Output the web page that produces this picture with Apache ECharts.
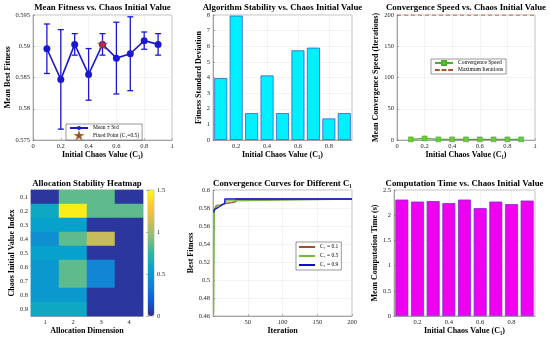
<!DOCTYPE html>
<html><head><meta charset="utf-8">
<script src="https://cdn.jsdelivr.net/npm/echarts@6/dist/echarts.min.js"></script>
<style>html,body{margin:0;padding:0;background:#fff}#c{width:550px;height:338px}</style>
</head><body><div id="c"></div>
<script>
// ---------- data ----------
const c1Values = [0.1, 0.2, 0.3, 0.4, 0.5, 0.6, 0.7, 0.8, 0.9];
const meanFitness = [0.5896, 0.5847, 0.5903, 0.5855, 0.5903, 0.5881, 0.5888, 0.5909, 0.5903];
const stdFitnessE3 = [3.96, 7.96, 1.72, 4.13, 1.72, 5.74, 5.91, 1.38, 1.72]; // x1e-3
const fixedPointC1 = 0.5;
const fixedPointFitness = 0.5903;
const convSpeed = [1, 2.5, 1, 1, 1, 1, 1, 1, 1];
const maxIterations = 200;
const compTime = [2.31, 2.27, 2.28, 2.24, 2.31, 2.14, 2.27, 2.22, 2.29];
const barTicks = [0.2, 0.4, 0.6, 0.8];
const heatRows = ['0.1','0.2','0.3','0.4','0.5','0.6','0.7','0.8','0.9'];
const heatCols = ['1','2','3','4'];
const heatValues = [
  [0.05, 0.85, 0.85, 0.05],
  [0.60, 1.45, 0.85, 0.85],
  [0.55, 0.55, 0.05, 0.05],
  [0.45, 0.85, 1.10, 0.05],
  [0.55, 0.55, 0.05, 0.05],
  [0.50, 0.85, 0.40, 0.05],
  [0.50, 0.85, 0.40, 0.05],
  [0.50, 0.50, 0.05, 0.05],
  [0.60, 0.60, 0.05, 0.05]
];
// convergence curves: [iteration, best fitness] at change points
const curveC01 = [[1,0.577],[3,0.580],[5,0.583],[10,0.585],[18,0.586],[27,0.587],[33,0.590],[200,0.590]];
const curveC05 = [[1,0.462],[2,0.576],[3,0.580],[6,0.583],[10,0.585],[18,0.588],[25,0.590],[200,0.590]];
const curveC09 = [[1,0.575],[2,0.578],[4,0.580],[6,0.582],[10,0.584],[14,0.585],[17,0.590],[200,0.590]];

// ---------- styling ----------
const font = '"Liberation Serif","Times New Roman",serif';
const tickLabel = {fontSize: 6.5, color:'#262626', fontFamily: font, margin: 3};
const nameStyle = {fontSize: 8, fontWeight:'bold', color:'#000', fontFamily: font};
function axis(type, grid, o) {
  return Object.assign({
    type: type, gridIndex: grid,
    nameLocation:'middle', nameTextStyle: nameStyle,
    axisLine:{show:true, onZero:false, lineStyle:{color:'#777', width:0.6}},
    axisTick:{show:true, inside:true, length:2, lineStyle:{color:'#777', width:0.5}},
    axisLabel: tickLabel,
    splitLine:{show:true, lineStyle:{color:'#e6e6e6', width:0.5}}
  }, o);
}
const grids = [
  {left:33, top:15, width:139, height:125},
  {left:213, top:15, width:139, height:125},
  {left:397, top:15, width:138, height:125},
  {left:31, top:190, width:112, height:126},
  {left:213, top:190, width:139, height:126},
  {left:394, top:190, width:141, height:126},
  {left:148, top:190, width:6, height:126}
].map(g => Object.assign({show:true, borderColor:'#999', borderWidth:0.6, backgroundColor:'#fff'}, g));

const titleDefs = [
  ['Mean Fitness vs. Chaos Initial Value', 102.5, 3],
  ['Algorithm Stability vs. Chaos Initial Value', 282.5, 3],
  ['Convergence Speed vs. Chaos Initial Value', 466, 3],
  ['Allocation Stability Heatmap', 87, 179],
  ['Convergence Curves for Different C\u2081', 282.5, 179],
  ['Computation Time vs. Chaos Initial Value', 464.5, 179]
];
const titles = titleDefs.map(t => ({text:t[0], left:t[1], top:t[2], textAlign:'center', padding:0,
  textStyle:{fontSize:8.8, fontWeight:'bold', color:'#000', fontFamily:font}}));

const xName = 'Initial Chaos Value (C\u2081)';
function barXAxis(grid) {
  return axis('value', grid, {min:0.05, max:0.95, name:xName, nameGap:10,
    axisLabel:Object.assign({}, tickLabel, {customValues:barTicks}),
    axisTick:{show:true, inside:true, length:2, customValues:barTicks, lineStyle:{color:'#777', width:0.5}}});
}
const xAxes = [
  axis('value', 0, {min:0, max:1, interval:0.2, name:xName, nameGap:10}),
  barXAxis(1),
  axis('value', 2, {min:0, max:1, interval:0.2, name:xName, nameGap:10}),
  axis('category', 3, {data:heatCols, name:'Allocation Dimension', nameGap:10,
    splitLine:{show:false}, axisTick:{show:false}}),
  axis('value', 4, {min:0, max:200, interval:50, name:'Iteration', nameGap:10,
    axisLabel:Object.assign({}, tickLabel, {showMinLabel:false})}),
  barXAxis(5),
  {type:'value', gridIndex:6, show:false, min:0, max:1}
];
const yAxes = [
  axis('value', 0, {min:0.575, max:0.595, interval:0.005, name:'Mean Best Fitness', nameGap:20}),
  axis('value', 1, {min:0, max:8, interval:1, name:'Fitness Standard Deviation', nameGap:7}),
  axis('value', 2, {min:0, max:200, interval:50, name:'Mean Convergence Speed (Iterations)', nameGap:15}),
  axis('category', 3, {data:heatRows, inverse:true, name:'Chaos Initial Value Index', nameGap:13,
    splitLine:{show:false}, axisTick:{show:false}}),
  axis('value', 4, {min:0.46, max:0.6, interval:0.02, name:'Best Fitness', nameGap:16}),
  axis('value', 5, {min:0, max:2.5, interval:0.5, name:'Mean Computation Time (s)', nameGap:10}),
  axis('value', 6, {min:0, max:1.5, interval:0.5, position:'right', splitLine:{show:false},
    axisLine:{show:true, lineStyle:{color:'#777', width:0.6}}})
];

const blue = '#1a1acc';
const heatData = [];
heatValues.forEach((row, r) => row.forEach((v, c) => heatData.push([c, r, v])));
const dashIcon = 'path://M0,0h5v2h-5z M7,0h5v2h-5z M14,0h5v2h-5z';
const legendBase = {orient:'vertical', itemWidth:18, itemHeight:5, itemGap:1, padding:[1,3],
  backgroundColor:'#fff', borderColor:'#333', borderWidth:0.5,
  textStyle:{fontSize:5.5, fontFamily:font, color:'#000'}};

const option = {
  animation:false,
  backgroundColor:'#fff',
  title: titles,
  grid: grids,
  xAxis: xAxes,
  yAxis: yAxes,
  legend: [
    Object.assign({}, legendBase, {data:['Mean \u00b1 Std','Fixed Point (C\u2081=0.5)'], left:66, top:124}),
    Object.assign({}, legendBase, {data:['Convergence Speed', {name:'Maximum Iterations', icon:dashIcon, itemStyle:{color:'#a0522d'}}],
      left:431, top:59}),
    Object.assign({}, legendBase, {data:[{name:'C\u2081 = 0.1', icon:'rect'},{name:'C\u2081 = 0.5', icon:'rect'},{name:'C\u2081 = 0.9', icon:'rect'}],
      left:296, top:242, itemWidth:16, itemHeight:2, itemGap:3, padding:[2,3]})
  ],
  visualMap: {
    type:'continuous', min:0, max:1.5, seriesIndex:3, show:true, calculable:false,
    left:148, top:190, itemWidth:6, itemHeight:126, padding:0, text:null, showLabel:false,
    inRange:{color:['#352a87','#0f5cdd','#1481d6','#06a4ca','#2eb7a4','#87bf77','#d1bb59','#fec832','#f9fb0e']},
    textStyle:{fontSize:0}
  },
  series: [
    {type:'custom', name:'errbar', xAxisIndex:0, yAxisIndex:0, z:2,
     data: c1Values.map((x,i)=>[x, meanFitness[i]-stdFitnessE3[i]/1000, meanFitness[i]+stdFitnessE3[i]/1000]),
     renderItem(params, api){
       const x = api.value(0);
       const lo = api.coord([x, api.value(1)]);
       const hi = api.coord([x, api.value(2)]);
       const w = 3;
       const st = {stroke:blue, lineWidth:1.3};
       return {type:'group', children:[
         {type:'line', shape:{x1:lo[0],y1:lo[1],x2:hi[0],y2:hi[1]}, style:st},
         {type:'line', shape:{x1:lo[0]-w,y1:lo[1],x2:lo[0]+w,y2:lo[1]}, style:st},
         {type:'line', shape:{x1:hi[0]-w,y1:hi[1],x2:hi[0]+w,y2:hi[1]}, style:st}
       ]};
     }},
    {type:'line', name:'Mean \u00b1 Std', xAxisIndex:0, yAxisIndex:0, z:3,
     data:c1Values.map((x,i)=>[x, meanFitness[i]]), symbol:'circle', symbolSize:7,
     lineStyle:{color:blue, width:1.6}, itemStyle:{color:blue}},
    {type:'scatter', name:'Fixed Point (C\u2081=0.5)', xAxisIndex:0, yAxisIndex:0, z:4,
     data:[[fixedPointC1, fixedPointFitness]], symbol:'path://M0,-10 L2.35,-3.24 9.51,-3.09 3.8,1.24 5.88,8.09 0,4 -5.88,8.09 -3.8,1.24 -9.51,-3.09 -2.35,-3.24Z',
     symbolSize:10, itemStyle:{color:'#e0302a', borderColor:'#8b4513', borderWidth:0.5}},
    {type:'heatmap', name:'heat', xAxisIndex:3, yAxisIndex:3, data:heatData},
    {type:'bar', name:'std', xAxisIndex:1, yAxisIndex:1, barWidth:13,
     data:c1Values.map((x,i)=>[x, stdFitnessE3[i]]),
     itemStyle:{color:'#00f0ff', borderColor:'#3a5fd0', borderWidth:0.8}},
    {type:'line', name:'Convergence Speed', xAxisIndex:2, yAxisIndex:2, z:3,
     data:c1Values.map((x,i)=>[x, convSpeed[i]]), symbol:'rect', symbolSize:5,
     lineStyle:{color:'#4caf2a', width:1.3}, itemStyle:{color:'#66cc33', borderColor:'#4caf2a', borderWidth:0.5}},
    {type:'line', name:'Maximum Iterations', xAxisIndex:2, yAxisIndex:2, symbol:'none',
     data:[[0, maxIterations],[1, maxIterations]],
     lineStyle:{color:'#a0522d', width:1.2, type:[4,3]}, itemStyle:{color:'#a0522d'}},
    {type:'line', name:'C\u2081 = 0.1', xAxisIndex:4, yAxisIndex:4, step:'end', symbol:'none',
     data:curveC01, lineStyle:{color:'#a0522d', width:1.3}, itemStyle:{color:'#a0522d'}},
    {type:'line', name:'C\u2081 = 0.5', xAxisIndex:4, yAxisIndex:4, step:'end', symbol:'none',
     data:curveC05, lineStyle:{color:'#77b83c', width:1.3}, itemStyle:{color:'#77b83c'}},
    {type:'line', name:'C\u2081 = 0.9', xAxisIndex:4, yAxisIndex:4, step:'end', symbol:'none',
     data:curveC09, lineStyle:{color:'#1010c8', width:1.3}, itemStyle:{color:'#1010c8'}},
    {type:'bar', name:'time', xAxisIndex:5, yAxisIndex:5, barWidth:13,
     data:c1Values.map((x,i)=>[x, compTime[i]]),
     itemStyle:{color:'#f000f0', borderColor:'#7b30d0', borderWidth:0.8}}
  ]
};
const chart = echarts.init(document.getElementById('c'), null, {renderer:'canvas'});
chart.setOption(option);
</script></body></html>
